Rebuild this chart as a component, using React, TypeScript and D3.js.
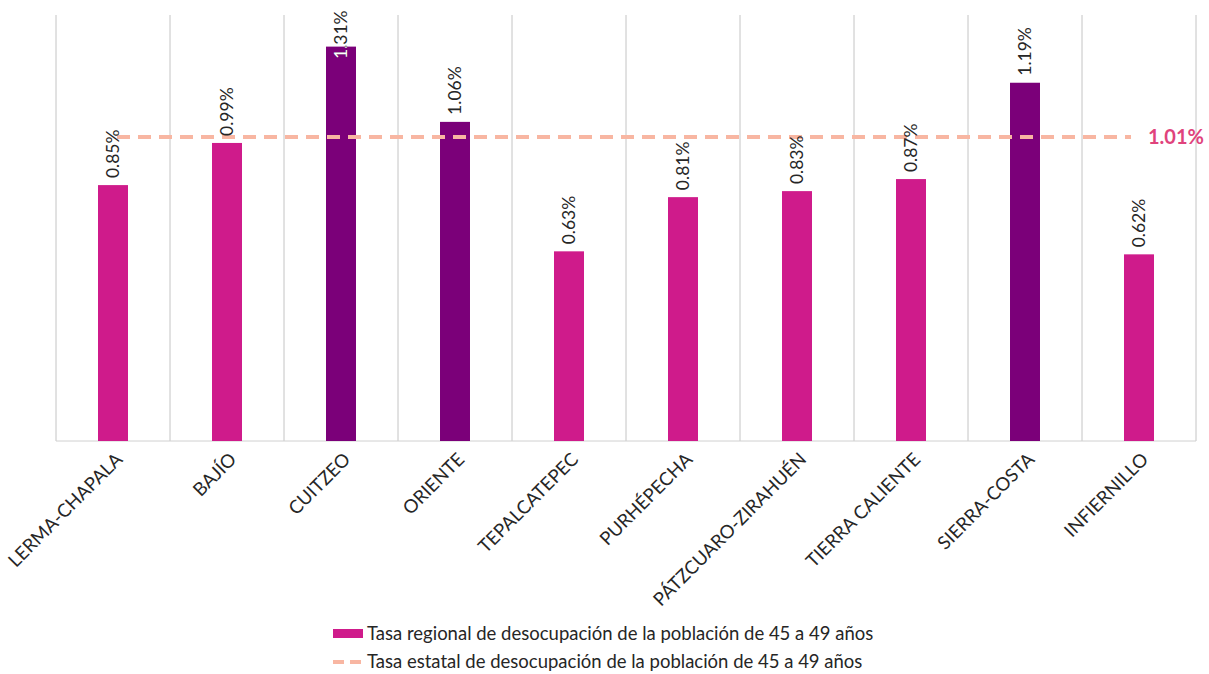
import React from "react";
import * as d3 from "d3";

const categories = [
  "LERMA-CHAPALA",
  "BAJÍO",
  "CUITZEO",
  "ORIENTE",
  "TEPALCATEPEC",
  "PURHÉPECHA",
  "PÁTZCUARO-ZIRAHUÉN",
  "TIERRA CALIENTE",
  "SIERRA-COSTA",
  "INFIERNILLO",
];
const regionalRate = [0.85, 0.99, 1.31, 1.06, 0.63, 0.81, 0.83, 0.87, 1.19, 0.62];
const stateRate = 1.01;
const legendLabels = [
  "Tasa regional de desocupación de la población de 45 a 49 años",
  "Tasa estatal de desocupación de la población de 45 a 49 años",
];

const W = 1209;
const H = 674;
const left = 56;
const right = 1196;
const top = 15;
const bottom = 441;

const PINK = "#cf1b8b";
const PURPLE = "#7b0079";
const DASH = "#f8b6a2";
const STATE_LABEL = "#e0437c";
const FONT = "Lato, 'Open Sans', sans-serif";

export default function App() {
  const x = d3
    .scaleBand<string>()
    .domain(categories)
    .range([left, right])
    .paddingInner(0.737)
    .paddingOuter(0.3685);
  const y = d3.scaleLinear().domain([0, 1.415]).range([bottom, top]);
  const step = x.step();
  const gridXs = d3.range(categories.length + 1).map((i) => left + i * step);
  const bw = x.bandwidth();
  const fmt = (v: number) => d3.format(".2f")(v) + "%";
  const labelFont = 17.5;
  const approxLabelLen = 49;

  const firstC = (x(categories[0]) as number) + bw / 2;
  const lastC = (x(categories[categories.length - 1]) as number) + bw / 2;

  return (
    <svg width={W} height={H} style={{ position: "absolute", left: 0, top: 0, background: "#fff" }}>
      <defs>
        {categories.map((c, i) => {
          const bx = x(c) as number;
          const by = y(regionalRate[i]);
          return (
            <clipPath id={`clip-${i}`} key={c}>
              <rect x={bx} y={by} width={bw} height={bottom - by} />
            </clipPath>
          );
        })}
      </defs>
      {gridXs.map((gx, i) => (
        <line key={i} x1={gx} x2={gx} y1={top} y2={bottom} stroke="#c4c4c4" strokeWidth={1} />
      ))}
      <line x1={left} x2={right} y1={bottom} y2={bottom} stroke="#d0d0d0" strokeWidth={1} />
      {categories.map((c, i) => {
        const v = regionalRate[i];
        const bx = x(c) as number;
        const by = y(v);
        return (
          <rect
            key={c}
            x={bx}
            y={by}
            width={bw}
            height={bottom - by}
            fill={v > stateRate ? PURPLE : PINK}
          />
        );
      })}
      <line
        x1={firstC + 4}
        x2={lastC - 8}
        y1={y(stateRate)}
        y2={y(stateRate)}
        stroke={DASH}
        strokeWidth={4}
        strokeDasharray="13 8"
      />
      <text
        x={1148}
        y={y(stateRate)}
        dy="0.35em"
        fill={STATE_LABEL}
        fontFamily={FONT}
        fontSize={20}
        fontWeight={700}
      >
        {fmt(stateRate)}
      </text>
      {categories.map((c, i) => {
        const v = regionalRate[i];
        const cx = (x(c) as number) + bw / 2;
        const ay = Math.max(y(v) - 7, 10 + approxLabelLen);
        const t = `translate(${cx},${ay}) rotate(-90)`;
        return (
          <g key={c}>
            <text
              transform={t}
              dy="0.35em"
              fill="#262626"
              fontFamily={FONT}
              fontSize={labelFont}
            >
              {fmt(v)}
            </text>
            <g clipPath={`url(#clip-${i})`}>
              <text transform={t} dy="0.35em" fill="#ffffff" fontFamily={FONT} fontSize={labelFont}>
                {fmt(v)}
              </text>
            </g>
          </g>
        );
      })}
      {categories.map((c) => {
        const cx = (x(c) as number) + bw / 2;
        return (
          <text
            key={c}
            transform={`translate(${cx + 6},${bottom + 15}) rotate(-45)`}
            textAnchor="end"
            dy="0.35em"
            fill="#262626"
            fontFamily={FONT}
            fontSize={18.5}
          >
            {c}
          </text>
        );
      })}
      <rect x={333} y={629} width={30} height={9} fill={PINK} />
      <text x={367} y={634} dy="0.35em" fill="#262626" fontFamily={FONT} fontSize={18.5}>
        {legendLabels[0]}
      </text>
      <line x1={333} x2={363} y1={662} y2={662} stroke={DASH} strokeWidth={4} strokeDasharray="11 6" />
      <text x={367} y={662} dy="0.35em" fill="#262626" fontFamily={FONT} fontSize={18.5}>
        {legendLabels[1]}
      </text>
    </svg>
  );
}
